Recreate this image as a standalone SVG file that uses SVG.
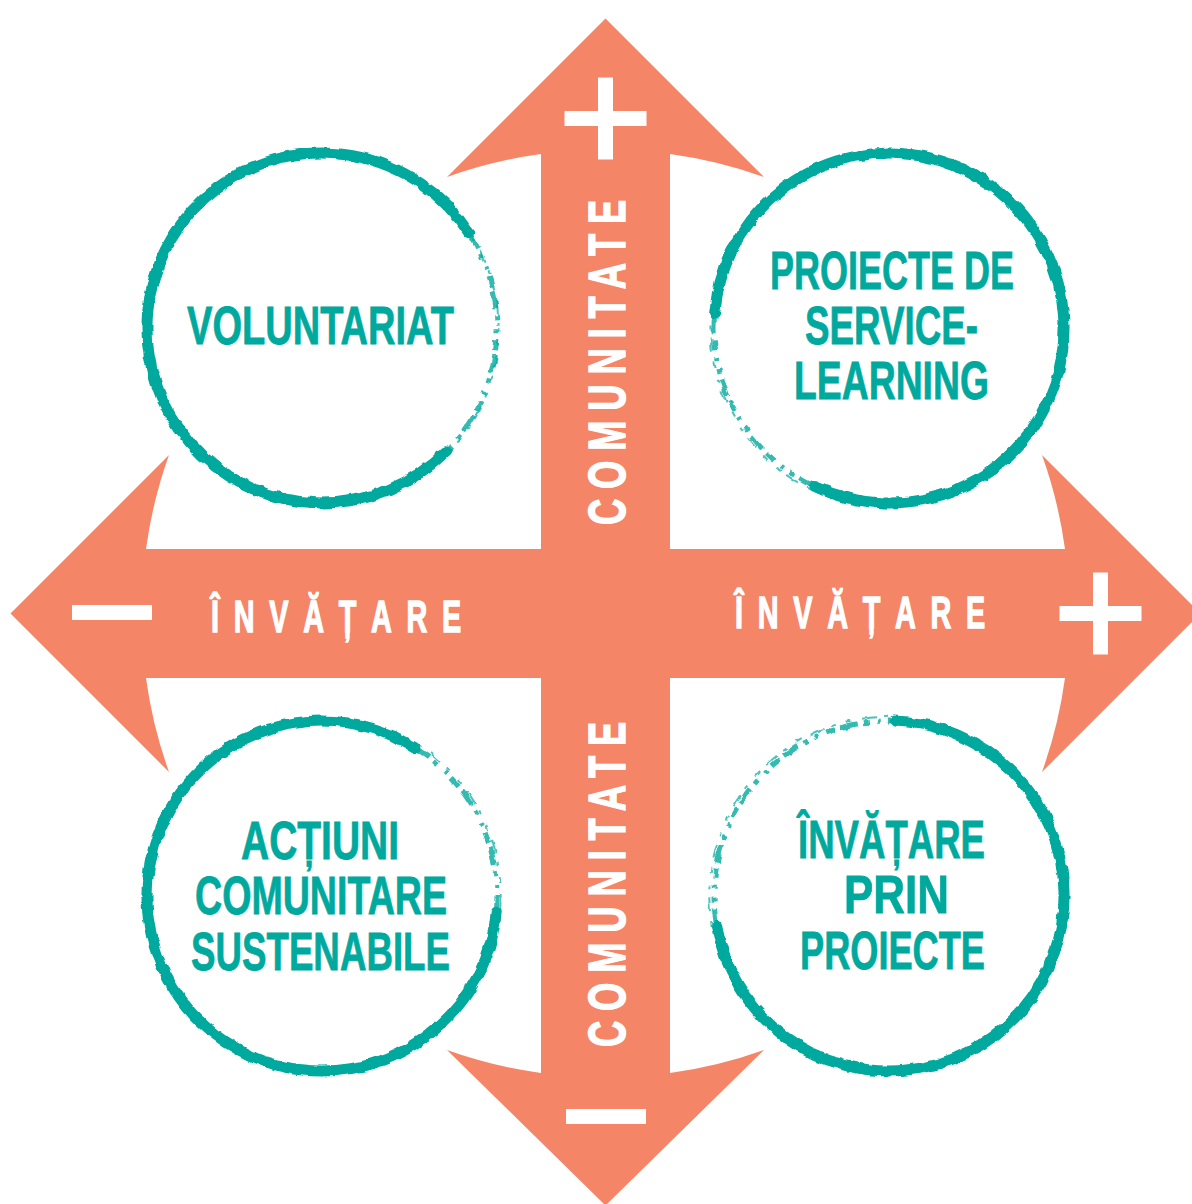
<svg xmlns="http://www.w3.org/2000/svg" width="1192" height="1204" viewBox="0 0 1192 1204">
  <style>
    .axis { fill: #F58567; }
    .sign { fill: #FFFFFF; }
    .axlbl { font-family: "Liberation Sans", Arial, sans-serif; font-weight: bold; fill: #FFFFFF; stroke: #FFFFFF; stroke-width: 1.4; }
    .lbl { font-family: "Liberation Sans", Arial, sans-serif; font-weight: bold; font-size: 54px; fill: #00A99D; stroke: #00A99D; stroke-width: 0.8; text-anchor: middle; }
    .ring { fill: none; stroke: #00A99D; stroke-width: 11; stroke-linecap: round; }
    .fade { fill: none; stroke: #00A99D; stroke-width: 5; stroke-dasharray: 18 6 5 9 3 7 11 5; opacity: 0.8; }
    .fade2 { fill: none; stroke: #00A99D; stroke-width: 2; stroke-dasharray: 6 10 14 8 4 12; opacity: 0.7; }
  </style>
  <defs>
    <filter id="rough" x="-10%" y="-10%" width="120%" height="120%">
      <feTurbulence type="fractalNoise" baseFrequency="0.09" numOctaves="2" seed="4" result="n"/>
      <feDisplacementMap in="SourceGraphic" in2="n" scale="5" xChannelSelector="R" yChannelSelector="G"/>
    </filter>
  </defs>
  <rect x="0" y="0" width="1192" height="1204" fill="#FFFFFF"/>

  <g id="axes">
    <path class="axis" transform="translate(605.5,613.5)" d="M0,-595 L158.5,-436.5 A464,464 0 0 0 64.5,-459.5 L64.5,-64.5 L459.5,-64.5 A464,464 0 0 0 436.5,-158.5 L595,0 L436.5,158.5 A464,464 0 0 0 459.5,64.5 L64.5,64.5 L64.5,459.5 A464,464 0 0 0 158.5,436.5 L0,592 L-158.5,436.5 A464,464 0 0 0 -64.5,459.5 L-64.5,64.5 L-459.5,64.5 A464,464 0 0 0 -436.5,158.5 L-595,0 L-436.5,-158.5 A464,464 0 0 0 -459.5,-64.5 L-64.5,-64.5 L-64.5,-459.5 A464,464 0 0 0 -158.5,-436.5 Z"/>
    <rect class="sign" x="564.5" y="111" width="82" height="15"/>
    <rect class="sign" x="598" y="77.5" width="15" height="82"/>
    <rect class="sign" x="1059.5" y="606" width="82" height="15"/>
    <rect class="sign" x="1093" y="572.5" width="15" height="82"/>
    <rect class="sign" x="72" y="605" width="80" height="15"/>
    <rect class="sign" x="566" y="1109" width="80" height="15"/>
    <text class="axlbl" font-size="45" letter-spacing="23" transform="translate(211,632) scale(0.64,1)">ÎNVĂȚARE</text>
    <text class="axlbl" font-size="45" letter-spacing="23" transform="translate(735,628) scale(0.64,1)">ÎNVĂȚARE</text>
    <text class="axlbl" font-size="52" letter-spacing="14" transform="translate(625,525) rotate(-90) scale(0.7,1)">COMUNITATE</text>
    <text class="axlbl" font-size="52" letter-spacing="14" transform="translate(625,1047) rotate(-90) scale(0.7,1)">COMUNITATE</text>
  </g>

  <g id="node-voluntariat">
    <g filter="url(#rough)">
      <path class="ring" d="M445.7,451.7 A175,175 0 1 1 468.8,232.7"/>
      <path class="fade" d="M468.8,232.7 A175,175 0 0 1 445.7,451.7"/>
      <path class="fade2" d="M472,236 A178,178 0 0 1 448,454"/>
    </g>
    <text class="lbl" x="320.5" y="344" textLength="267" lengthAdjust="spacingAndGlyphs">VOLUNTARIAT</text>
  </g>

  <g id="node-service-learning">
    <g filter="url(#rough)">
      <path class="ring" d="M714.7,312.7 A175,175 0 1 1 815.0,486.6"/>
      <path class="fade" d="M815.0,486.6 A175,175 0 0 1 714.7,312.7"/>
      <path class="fade2" d="M812,490 A179,179 0 0 1 711,314"/>
    </g>
    <text class="lbl" x="892" y="289" textLength="244" lengthAdjust="spacingAndGlyphs">PROIECTE DE</text>
    <text class="lbl" x="891.5" y="344" textLength="173" lengthAdjust="spacingAndGlyphs">SERVICE-</text>
    <text class="lbl" x="891.5" y="399" textLength="195" lengthAdjust="spacingAndGlyphs">LEARNING</text>
  </g>

  <g id="node-actiuni">
    <g filter="url(#rough)">
      <path class="ring" d="M496.3,911.3 A175,175 0 1 1 414.7,747.6"/>
      <path class="fade" d="M414.7,747.6 A175,175 0 0 1 496.3,911.3"/>
      <path class="fade2" d="M417,744 A179,179 0 0 1 500,911"/>
    </g>
    <text class="lbl" x="320" y="859" textLength="158" lengthAdjust="spacingAndGlyphs">ACȚIUNI</text>
    <text class="lbl" x="321" y="914" textLength="252" lengthAdjust="spacingAndGlyphs">COMUNITARE</text>
    <text class="lbl" x="320.5" y="970" textLength="259" lengthAdjust="spacingAndGlyphs">SUSTENABILE</text>
  </g>

  <g id="node-invatare-prin-proiecte">
    <g filter="url(#rough)">
      <path class="ring" d="M895.1,721.1 A175,175 0 1 1 716.7,926.4"/>
      <path class="fade" d="M716.7,926.4 A175,175 0 0 1 895.1,721.1"/>
      <path class="fade2" d="M712,927 A179,179 0 0 1 895,717"/>
    </g>
    <text class="lbl" x="891.5" y="858" textLength="187" lengthAdjust="spacingAndGlyphs">ÎNVĂȚARE</text>
    <text class="lbl" x="896.5" y="913" textLength="105" lengthAdjust="spacingAndGlyphs">PRIN</text>
    <text class="lbl" x="892.5" y="969" textLength="185" lengthAdjust="spacingAndGlyphs">PROIECTE</text>
  </g>
</svg>
